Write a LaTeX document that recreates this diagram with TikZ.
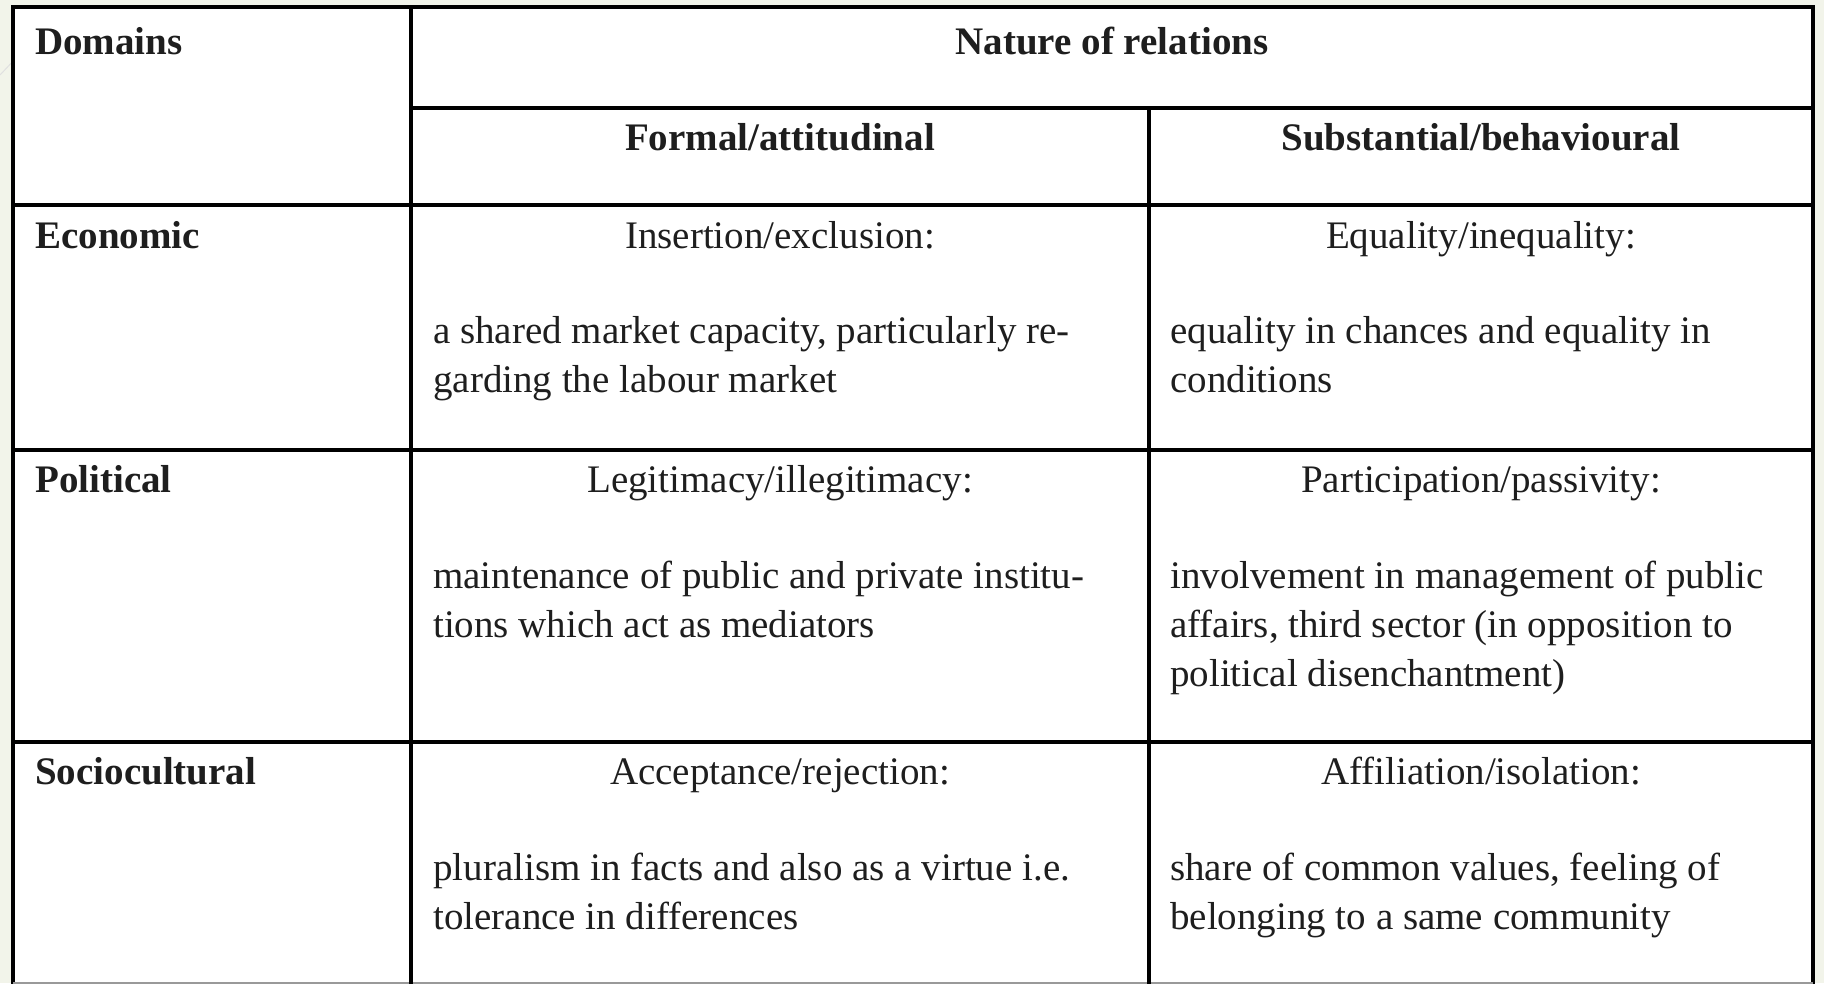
\documentclass[tikz,border=0pt]{standalone}
\usepackage{fontspec}
\setmainfont{Liberation Serif}
\definecolor{bgc}{RGB}{242,244,234}
\definecolor{txt}{RGB}{30,30,30}
\begin{document}
\begin{tikzpicture}[x=1pt,y=-1pt,
  rule/.style={line width=3.5pt, black, line cap=rect},
  hd/.style={font=\fontsize{39}{49}\selectfont\bfseries, inner sep=0, anchor=base, text=txt},
  hdl/.style={hd, anchor=base west},
  ttl/.style={font=\fontsize{39}{49}\selectfont, inner sep=0, anchor=base, text=txt},
  bod/.style={font=\fontsize{39}{49}\selectfont, inner sep=0, anchor=north west, align=left, text=txt},
]
\useasboundingbox (0,0) rectangle (1824,983);
\fill[bgc] (0,0) rectangle (1824,983);
\draw[black!12, line width=1pt] (0,75) -- (17,57);
% frame coordinates
\coordinate (TL) at (13,7);
\coordinate (TR) at (1813,7);
\coordinate (BL) at (13,983);
\coordinate (BR) at (1813,983);
\coordinate (C1t) at (411,7);
\coordinate (C1b) at (411,983);
\coordinate (C2t) at (1149,108);
\coordinate (C2b) at (1149,983);
\coordinate (H1l) at (411,108);
\coordinate (H1r) at (1813,108);
\coordinate (H2l) at (13,205);
\coordinate (H2r) at (1813,205);
\coordinate (R1l) at (13,450);
\coordinate (R1r) at (1813,450);
\coordinate (R2l) at (13,742);
\coordinate (R2r) at (1813,742);
\fill[white] (TL) rectangle (BR);
\draw[rule] (BL) -- (TL) -- (TR) -- (BR);
\draw[black!40, line width=1.5pt] (BL) -- (BR);
\draw[rule] (C1t) -- (C1b);
\draw[rule] (C2t) -- (C2b);
\draw[rule] (H1l) -- (H1r);
\draw[rule] (H2l) -- (H2r);
\draw[rule] (R1l) -- (R1r);
\draw[rule] (R2l) -- (R2r);
% header
\node[hdl] (dom) at (35,54) {Domains};
\node[hd] (nat) at (1112,54) {Nature of relations};
\node[hd] (form) at (780,150) {Formal/attitudinal};
\node[hd] (subs) at (1481,150) {Substantial/behavioural};
% row 1
\node[hdl] (eco) at (35,248) {Economic};
\node[ttl] (ins) at (780,248) {Insertion/exclusion:};
\node[bod] (insb) at (433,308.7) {\strut a shared market capacity, particularly re-\\garding the labour market};
\node[ttl] (equ) at (1481,248) {Equality/inequality:};
\node[bod] (equb) at (1170,308.7) {\strut equality in chances and equality in\\conditions};
% row 2
\node[hdl] (pol) at (35,492) {Political};
\node[ttl] (leg) at (780,492) {Legitimacy/illegitimacy:};
\node[bod] (legb) at (433,553.7) {\strut maintenance of public and private institu-\\tions which act as mediators};
\node[ttl] (par) at (1481,492) {Participation/passivity:};
\node[bod] (parb) at (1170,553.7) {\strut involvement in management of public\\affairs, third sector (in opposition to\\political disenchantment)};
% row 3
\node[hdl] (soc) at (35,784) {Sociocultural};
\node[ttl] (acc) at (780,784) {Acceptance/rejection:};
\node[bod] (accb) at (433,845.7) {\strut pluralism in facts and also as a virtue i.e.\\tolerance in differences};
\node[ttl] (aff) at (1481,784) {Affiliation/isolation:};
\node[bod] (affb) at (1170,845.7) {\strut share of common values, feeling of\\belonging to a same community};
\end{tikzpicture}
\end{document}
